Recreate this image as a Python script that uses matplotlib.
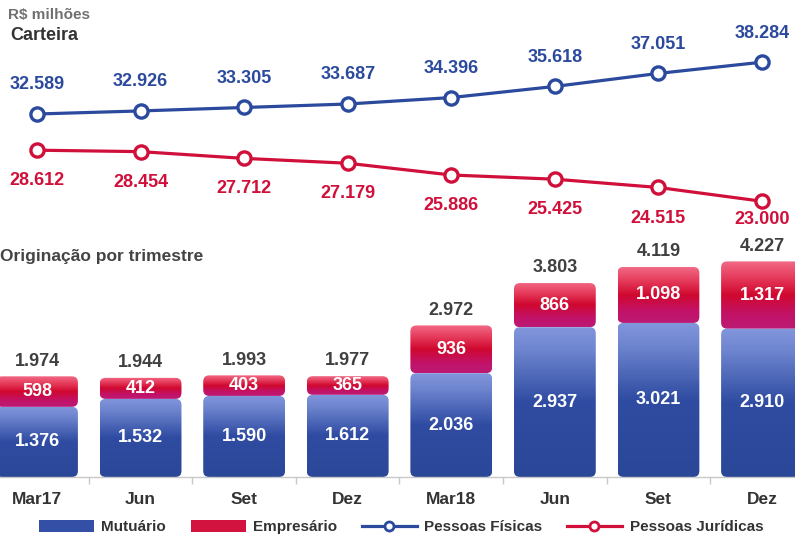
import numpy as np
import matplotlib
matplotlib.use('Agg')
import matplotlib.pyplot as plt
from matplotlib.patches import FancyBboxPatch, Patch
from matplotlib.lines import Line2D
from matplotlib.colors import LinearSegmentedColormap

categories = ["Mar17", "Jun", "Set", "Dez", "Mar18", "Jun", "Set", "Dez"]
pessoas_fisicas = [32589, 32926, 33305, 33687, 34396, 35618, 37051, 38284]
pessoas_juridicas = [28612, 28454, 27712, 27179, 25886, 25425, 24515, 23000]
mutuario = [1376, 1532, 1590, 1612, 2036, 2937, 3021, 2910]
empresario = [598, 412, 403, 365, 936, 866, 1098, 1317]
totais = [1974, 1944, 1993, 1977, 2972, 3803, 4119, 4227]


def fmt(v):
    return f"{v:,}".replace(",", ".")


plt.rcParams['font.family'] = ['Liberation Sans', 'DejaVu Sans']
W, H = 795, 540
fig = plt.figure(figsize=(7.95, 5.4), dpi=100)


def fr(x0, y0, x1, y1):
    return [x0 / W, 1 - y1 / H, (x1 - x0) / W, (y1 - y0) / H]


BLUE = '#2B4A9E'
RED = '#D0103A'
x = np.arange(len(categories))
xlim = (-37 / 103.6, 7 + 33 / 103.6)

# ---------------- bar chart (Originação) ----------------
axb = fig.add_axes(fr(0, 222, W, 477))
axb.patch.set_visible(False)
axb.set_xlim(*xlim)
axb.set_ylim(0, 5000)
for s in ['top', 'right', 'left']:
    axb.spines[s].set_visible(False)
axb.spines['bottom'].set_color('#C8C8C8')
axb.spines['bottom'].set_linewidth(1)
axb.set_yticks([])
axb.set_xticks(x)
axb.set_xticklabels(categories, fontsize=12.5, fontweight='bold', color='#333333')
axb.tick_params(axis='x', which='major', length=0, pad=11)
axb.set_xticks(x[:-1] + 0.5, minor=True)
axb.tick_params(axis='x', which='minor', length=5, color='#C8C8C8', width=1)

blue_cmap = LinearSegmentedColormap.from_list(
    'b', [(0, '#8296DC'), (0.15, '#6E85CF'), (0.5, '#2F4CA2'), (1, '#2A4798')])
red_cmap = LinearSegmentedColormap.from_list(
    'r', [(0, '#F26A86'), (0.25, '#E53A5A'), (0.5, '#D0082F'), (0.8, '#C2136A'), (1, '#BC1A74')])
grad = np.linspace(0, 1, 256).reshape(-1, 1)

bw = 0.79
ax_w_px = W
ax_h_px = 477 - 222
xu_per_px = (xlim[1] - xlim[0]) / ax_w_px
yu_per_px = 5000 / ax_h_px
aspect = yu_per_px / xu_per_px
r = 6 * xu_per_px


def seg(xc, y0, h, cmap, z):
    p = FancyBboxPatch((xc - bw / 2, y0), bw, h,
                       boxstyle=f"round,pad=0,rounding_size={r}",
                       mutation_aspect=aspect, facecolor='none',
                       edgecolor='none', transform=axb.transData, zorder=z)
    axb.add_patch(p)
    im = axb.imshow(grad, extent=[xc - bw / 2, xc + bw / 2, y0, y0 + h],
                    aspect='auto', cmap=cmap, origin='upper', zorder=z,
                    interpolation='bilinear')
    im.set_clip_path(p)


for xi, m, e, t in zip(x, mutuario, empresario, totais):
    seg(xi, 0, m, blue_cmap, 2)
    seg(xi, m, e, red_cmap, 3)
    axb.text(xi, m / 2, fmt(m), ha='center', va='center', color='white',
             fontsize=13, fontweight='bold', zorder=5)
    axb.text(xi, m + e / 2, fmt(e), ha='center', va='center', color='white',
             fontsize=13, fontweight='bold', zorder=5)
    axb.annotate(fmt(t), (xi, m + e), xytext=(0, 11), textcoords='offset points',
                 ha='center', va='center', color='#404040', fontsize=13,
                 fontweight='bold', annotation_clip=False)

axb.set_xlim(*xlim)
axb.set_ylim(0, 5000)

# ---------------- line chart (Carteira) ----------------
axl = fig.add_axes(fr(0, 40, W, 230))
axl.patch.set_visible(False)
axl.set_xlim(*xlim)
axl.set_ylim(19842, 40721)
axl.axis('off')
axl.plot(x, pessoas_fisicas, color=BLUE, lw=2.3, marker='o', ms=9.5,
         mfc='white', mec=BLUE, mew=2.4, zorder=3, clip_on=False)
axl.plot(x, pessoas_juridicas, color=RED, lw=2.3, marker='o', ms=9.5,
         mfc='white', mec=RED, mew=2.4, zorder=3, clip_on=False)
for xi, v in zip(x, pessoas_fisicas):
    axl.annotate(fmt(v), (xi, v), xytext=(0, 21), textcoords='offset points',
                 ha='center', va='center', color=BLUE, fontsize=13,
                 fontweight='bold', annotation_clip=False)
n = len(x)
for i, (xi, v) in enumerate(zip(x, pessoas_juridicas)):
    dy = -13 if i == n - 1 else -22
    axl.annotate(fmt(v), (xi, v), xytext=(0, dy), textcoords='offset points',
                 ha='center', va='center', color=RED, fontsize=13,
                 fontweight='bold', annotation_clip=False)

# ---------------- titles ----------------
fig.text(8 / W, 1 - 15 / H, "R$ milhões", ha='left', va='center',
         fontsize=11, fontweight='bold', color='#707070')
fig.text(10 / W, 1 - 36 / H, "Carteira", ha='left', va='center',
         fontsize=13, fontweight='bold', color='#333333')
fig.text(0 / W, 1 - 257 / H, "Originação por trimestre", ha='left', va='center',
         fontsize=12.5, fontweight='bold', color='#444444')

# ---------------- legend ----------------
handles = [
    Patch(facecolor='#3350A6', edgecolor='none', label='Mutuário'),
    Patch(facecolor='#D2123F', edgecolor='none', label='Empresário'),
    Line2D([], [], color=BLUE, lw=2.3, marker='o', ms=6.5, mfc='white',
           mec=BLUE, mew=2, label='Pessoas Físicas'),
    Line2D([], [], color=RED, lw=2.3, marker='o', ms=6.5, mfc='white',
           mec=RED, mew=2, label='Pessoas Jurídicas'),
]
fig.legend(handles=handles, loc='center', bbox_to_anchor=(401 / W, 1 - 527 / H),
           ncol=4, frameon=False, handlelength=3.6, handleheight=0.85,
           handletextpad=0.5, columnspacing=1.6,
           prop={'size': 11, 'weight': 'bold'}, labelcolor='#333333')

fig.savefig('out.png', dpi=100)
